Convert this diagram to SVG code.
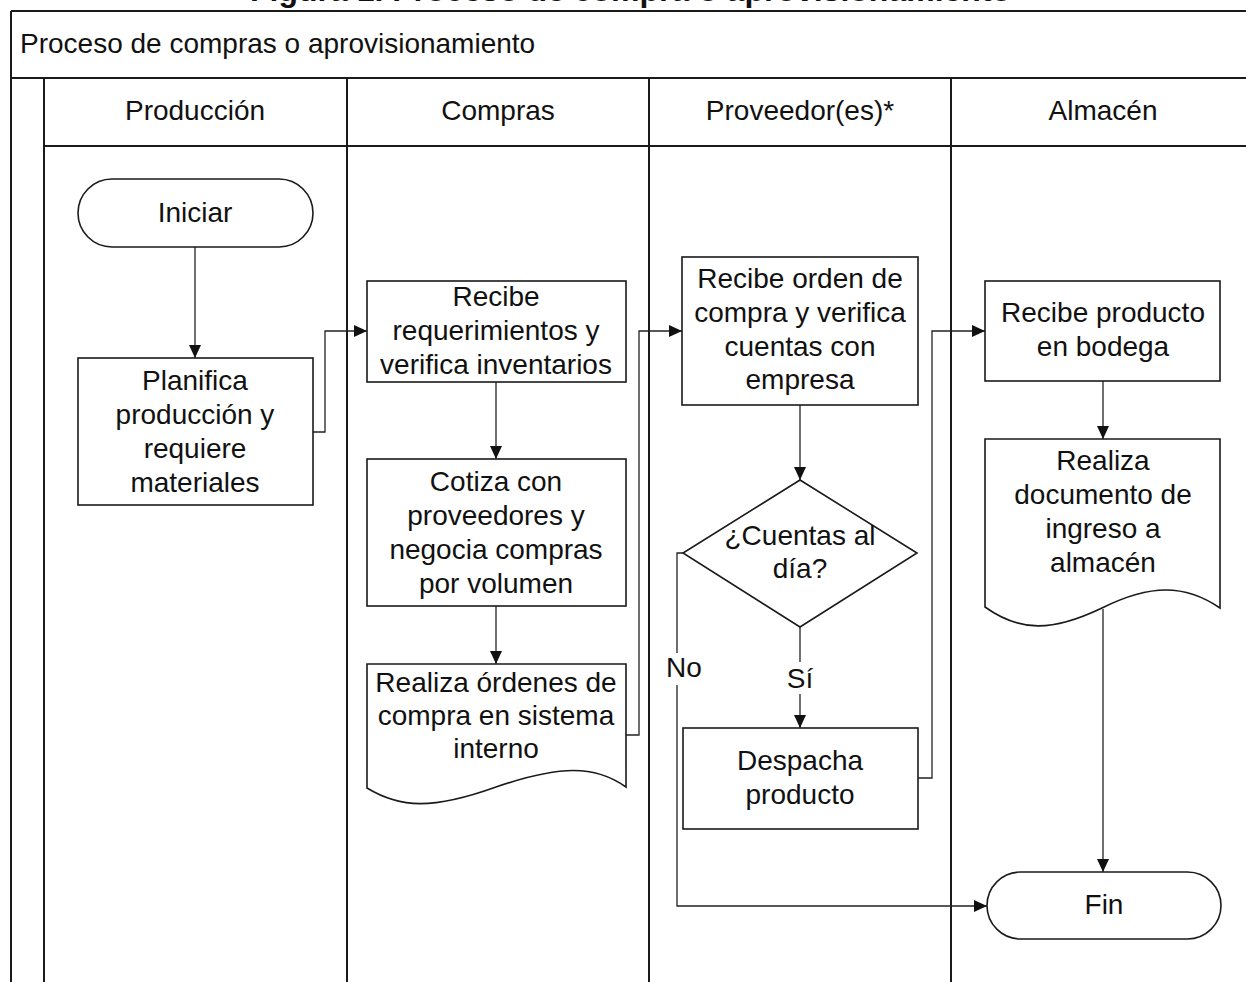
<svg xmlns="http://www.w3.org/2000/svg" width="1246" height="982" viewBox="0 0 1246 982">
<style>
  .lane { stroke: #1a1a1a; stroke-width: 2; fill: none; }
  .shape { fill: #ffffff; stroke: #1a1a1a; stroke-width: 1.6; }
  .conn { fill: none; stroke: #222222; stroke-width: 1.3; }
  .t { font-family: "Liberation Sans", Arial, sans-serif; font-size: 28px; fill: #111111; text-anchor: middle; }
  .tl { font-family: "Liberation Sans", Arial, sans-serif; font-size: 28px; fill: #111111; }
  .title { font-family: "Liberation Sans", Arial, sans-serif; font-size: 32px; font-weight: bold; fill: #111111; }
  .lbl { fill: #ffffff; stroke: none; }
</style>
<defs>
  <marker id="arrow" markerUnits="userSpaceOnUse" markerWidth="13" markerHeight="12" viewBox="0 0 13 12" refX="13" refY="6" orient="auto">
    <path d="M0,0 L13,6 L0,12 Z" fill="#111111"/>
  </marker>
</defs>
<rect x="0" y="0" width="1246" height="982" fill="#ffffff"/>

<text class="title" x="250" y="1">Figura 1. Proceso de compra o aprovisionamiento</text>

<g id="pool">
  <line class="lane" x1="11" y1="11" x2="1246" y2="11"/>
  <line class="lane" x1="11" y1="11" x2="11" y2="982"/>
  <line class="lane" x1="11" y1="78" x2="1246" y2="78"/>
  <line class="lane" x1="44" y1="146" x2="1246" y2="146"/>
  <line class="lane" x1="44" y1="78" x2="44" y2="982"/>
  <line class="lane" x1="347" y1="78" x2="347" y2="982"/>
  <line class="lane" x1="649" y1="78" x2="649" y2="982"/>
  <line class="lane" x1="951" y1="78" x2="951" y2="982"/>
  <text class="tl" x="20" y="53">Proceso de compras o aprovisionamiento</text>
  <text class="t" x="195" y="120">Producción</text>
  <text class="t" x="498" y="120">Compras</text>
  <text class="t" x="800" y="120">Proveedor(es)*</text>
  <text class="t" x="1103" y="120">Almacén</text>
</g>

<g id="connectors">
  <path class="conn" d="M195,247 V358" marker-end="url(#arrow)"/>
  <path class="conn" d="M313,432 H325 V331 H367" marker-end="url(#arrow)"/>
  <path class="conn" d="M496,382 V459" marker-end="url(#arrow)"/>
  <path class="conn" d="M496,606 V664" marker-end="url(#arrow)"/>
  <path class="conn" d="M626,735 H639 V331 H682" marker-end="url(#arrow)"/>
  <path class="conn" d="M800,405 V480" marker-end="url(#arrow)"/>
  <path class="conn" d="M800,627 V728" marker-end="url(#arrow)"/>
  <path class="conn" d="M683,553 H677 V906 H987" marker-end="url(#arrow)"/>
  <path class="conn" d="M918,778 H932 V331 H985" marker-end="url(#arrow)"/>
  <path class="conn" d="M1103,381 V439" marker-end="url(#arrow)"/>
  <path class="conn" d="M1103,609 V872" marker-end="url(#arrow)"/>
  <rect class="lbl" x="785" y="662" width="30" height="32"/>
  <text class="t" x="800" y="688">Sí</text>
  <rect class="lbl" x="664" y="653" width="40" height="32"/>
  <text class="t" x="684" y="677">No</text>
</g>

<g id="iniciar">
  <rect class="shape" x="78" y="179" width="235" height="68" rx="34" ry="34"/>
  <text class="t" x="195" y="222">Iniciar</text>
</g>

<g id="planifica">
  <rect class="shape" x="78" y="358" width="235" height="147"/>
  <text class="t" x="195" y="390">Planifica</text>
  <text class="t" x="195" y="424">producción y</text>
  <text class="t" x="195" y="458">requiere</text>
  <text class="t" x="195" y="492">materiales</text>
</g>

<g id="recibe-req">
  <rect class="shape" x="367" y="281" width="259" height="101"/>
  <text class="t" x="496" y="306">Recibe</text>
  <text class="t" x="496" y="340">requerimientos y</text>
  <text class="t" x="496" y="374">verifica inventarios</text>
</g>

<g id="cotiza">
  <rect class="shape" x="367" y="459" width="259" height="147"/>
  <text class="t" x="496" y="491">Cotiza con</text>
  <text class="t" x="496" y="525">proveedores y</text>
  <text class="t" x="496" y="559">negocia compras</text>
  <text class="t" x="496" y="593">por volumen</text>
</g>

<g id="realiza-ordenes">
  <path class="shape" d="M367,664 H626 V787 C595,765 560,765 496,787 C432,810 400,808 367,788 Z"/>
  <text class="t" x="496" y="692">Realiza órdenes de</text>
  <text class="t" x="496" y="725">compra en sistema</text>
  <text class="t" x="496" y="758">interno</text>
</g>

<g id="recibe-orden">
  <rect class="shape" x="682" y="257" width="236" height="148"/>
  <text class="t" x="800" y="288">Recibe orden de</text>
  <text class="t" x="800" y="322">compra y verifica</text>
  <text class="t" x="800" y="356">cuentas con</text>
  <text class="t" x="800" y="389">empresa</text>
</g>

<g id="cuentas">
  <path class="shape" d="M800,480 L917,553 L800,627 L683,553 Z"/>
  <text class="t" x="800" y="545">¿Cuentas al</text>
  <text class="t" x="800" y="578">día?</text>
</g>

<g id="despacha">
  <rect class="shape" x="683" y="728" width="235" height="101"/>
  <text class="t" x="800" y="770">Despacha</text>
  <text class="t" x="800" y="804">producto</text>
</g>

<g id="recibe-producto">
  <rect class="shape" x="985" y="281" width="235" height="100"/>
  <text class="t" x="1103" y="322">Recibe producto</text>
  <text class="t" x="1103" y="356">en bodega</text>
</g>

<g id="documento-ingreso">
  <path class="shape" d="M985,439 H1220 V608 C1185,584 1150,584 1102,608 C1052,632 1020,632 985,607 Z"/>
  <text class="t" x="1103" y="470">Realiza</text>
  <text class="t" x="1103" y="504">documento de</text>
  <text class="t" x="1103" y="538">ingreso a</text>
  <text class="t" x="1103" y="572">almacén</text>
</g>

<g id="fin">
  <rect class="shape" x="987" y="872" width="234" height="67" rx="33.5" ry="33.5"/>
  <text class="t" x="1104" y="914">Fin</text>
</g>
</svg>
